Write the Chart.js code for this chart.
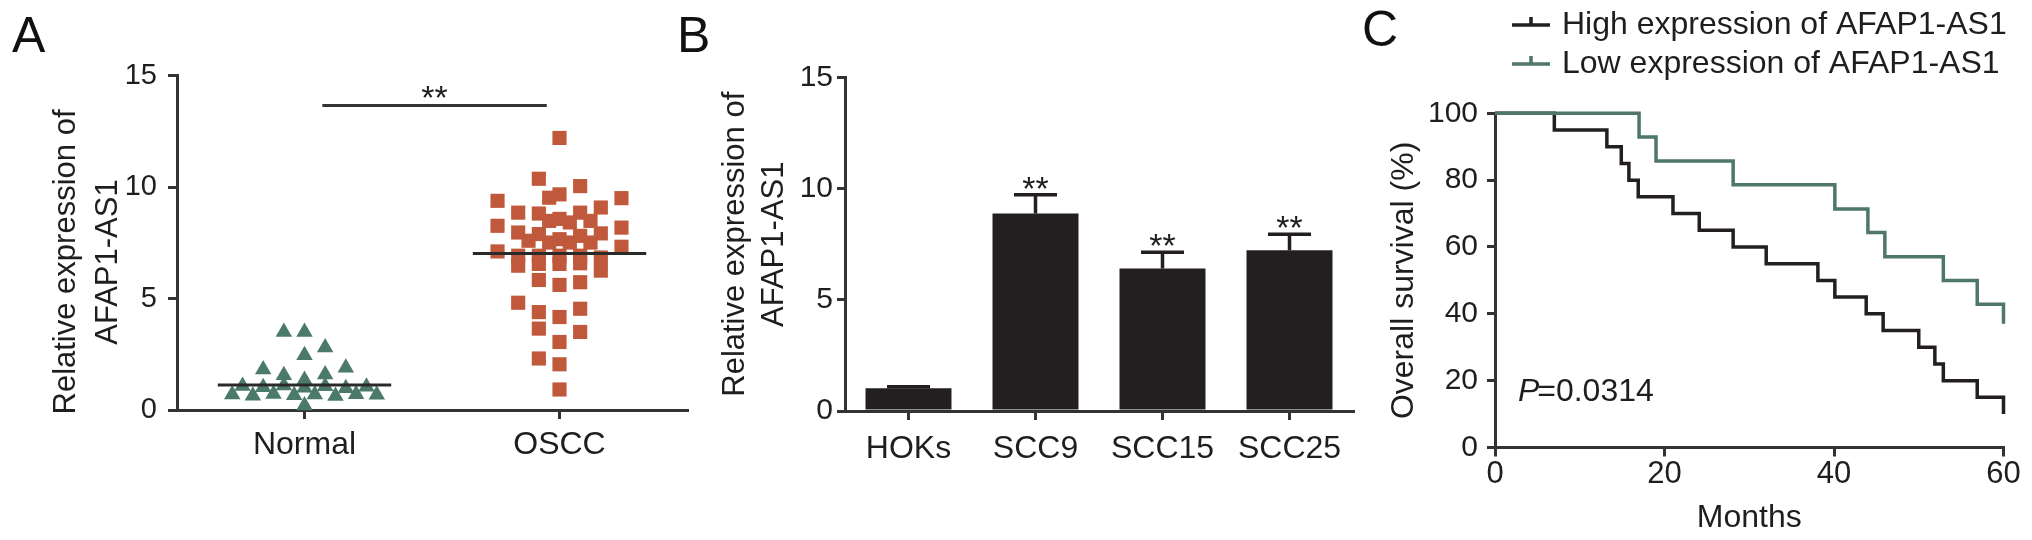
<!DOCTYPE html>
<html><head><meta charset="utf-8">
<script src="https://cdn.jsdelivr.net/npm/chart.js@4.4.1/dist/chart.umd.min.js"></script>
<style>
html,body{margin:0;padding:0;background:#fff;}
body{width:2032px;height:540px;position:relative;overflow:hidden;font-family:"Liberation Sans",Arial,Helvetica,sans-serif;}
canvas{position:absolute;top:0;}
.panel{position:absolute;font-size:50px;line-height:50px;color:#111;}
</style></head><body>
<div class="panel" style="left:12px;top:10px">A</div>
<div class="panel" style="left:677px;top:10px">B</div>
<div class="panel" style="left:1362px;top:4px">C</div>
<canvas id="cA" width="712" height="540" style="left:0px"></canvas>
<canvas id="cB" width="653" height="540" style="left:712px"></canvas>
<canvas id="cC" width="662" height="540" style="left:1370px"></canvas>
<script>
// ---------------- data ----------------
// Panel A
const groupLabelsA = ['Normal', 'OSCC'];
const yTicksA = [0, 5, 10, 15];
const normalValues = [3.50, 3.50, 2.80, 2.46, 1.82, 1.89, 1.56, 1.59, 1.34,
  1.08, 1.02, 1.10, 1.00, 1.06, 0.98, 1.04,
  0.70, 0.64, 0.72, 0.66, 0.69, 0.63, 0.71, 0.68, 0.20];
const normalSlots = [-1, 0, 1, 0, -2, 2, -1, 1, 0,
  -3, -2, -1, 0, 1, 2, 3,
  -3.5, -2.5, -1.5, -0.5, 0.5, 1.5, 2.5, 3.5, 0];
const osccValues = [12.2, 10.37, 10.04, 9.67, 9.52, 9.38, 9.50, 8.85, 8.81, 8.85, 9.08,
  8.48, 8.57, 8.41, 8.48, 8.26, 8.18, 7.96, 7.89, 7.92, 7.81, 7.66, 7.59, 7.51, 7.51, 7.51,
  7.32, 7.11, 6.92, 6.92, 6.92, 6.92, 6.84, 6.47, 6.55, 6.55, 6.58, 6.25, 5.83, 5.61, 5.73,
  4.81, 4.39, 4.54, 4.17, 3.65, 3.50, 3.05, 2.31, 2.05, 0.92];
const osccSlots = [0, -1, 1, 0, -0.5, -3, 3, -2, -1, 1, 2,
  -0.5, 0, 0.5, 1.5, -3, 3, -2, -1, 2, 1, 0, -1.5, -0.5, 0.5, 1.5,
  3, -3, -2, -1, 0, 1, 2, -2, -1, 0, 1, 2, -1, 0, 1,
  -2, -1, 1, 0, -1, 1, 0, -1, 0, 0];
const groupMeansA = [1.12, 7.02];
const sigSpanA = [0.07, 0.95];
const sigLevelA = 13.65;
const sigTextA = '**';

// Panel B
const cellLines = ['HOKs', 'SCC9', 'SCC15', 'SCC25'];
const expressionMeans = [1.02, 8.88, 6.41, 7.23];
const expressionSD = [0.07, 0.85, 0.73, 0.72];
const significanceB = ['', '**', '**', '**'];
const yTicksB = [0, 5, 10, 15];

// Panel C
const seriesNamesC = ['High expression of AFAP1-AS1', 'Low expression of AFAP1-AS1'];
const highMonths = [0, 7, 13.2, 14.9, 15.8, 16.9, 21, 24.1, 28.1, 32, 38.1, 40.1, 43.8, 45.8, 50, 51.9, 52.9, 56.9, 60];
const highSurvival = [100, 95, 90, 85, 80, 75, 70, 65, 60, 55, 50, 45, 40, 35, 30, 25, 20, 15, 10];
const lowMonths = [0, 17, 19, 28.1, 40.1, 44, 46, 52.9, 56.9, 60];
const lowSurvival = [100, 92.9, 85.7, 78.6, 71.4, 64.3, 57.1, 50, 42.9, 37];
const xTicksC = [0, 20, 40, 60];
const yTicksC = [0, 20, 40, 60, 80, 100];
const pValueText = '0.0314';

// ---------------- style ----------------
const FONT = '"Liberation Sans", Arial, Helvetica, sans-serif';
const INK = '#1e1e1e';
const AXIS = '#333333';
const GREEN = '#4b7a68';
const RUST = '#c0583b';
const BAR = '#231f20';

function axisStyle(tickLen) {
  return {
    grid: { display: true, drawOnChartArea: false, drawTicks: true, tickLength: tickLen,
            color: AXIS, lineWidth: 3, tickWidth: 3, tickColor: AXIS },
    border: { display: true, color: AXIS, width: 3 }
  };
}
function fixedTicks(arr) { return (scale) => { scale.ticks = arr.map(v => ({ value: v })); }; }
const base = { responsive: false, animation: false, devicePixelRatio: 1, events: [] };
const noPlug = { legend: { display: false }, tooltip: { enabled: false } };

function drawStars(ctx, text, x, centerY, size) {
  ctx.save();
  ctx.fillStyle = INK;
  ctx.font = size + 'px ' + FONT;
  ctx.textAlign = 'center';
  ctx.textBaseline = 'alphabetic';
  ctx.fillText(text, x, centerY + 0.58 * size);
  ctx.restore();
}

// ---------------- Panel A ----------------
const swarmStep = 0.081;
const meanHalf = 0.34;
const normalPoints = normalValues.map((v, i) => ({ x: 0 + normalSlots[i] * swarmStep, y: v }));
const osccPoints = osccValues.map((v, i) => ({ x: 1 + osccSlots[i] * swarmStep, y: v }));

const titleA = {
  id: 'titleA',
  afterDraw(chart) {
    const ctx = chart.ctx;
    const lines = ['Relative expression of', 'AFAP1-AS1'];
    const xs = [66, 108];
    ctx.save();
    ctx.fillStyle = INK;
    ctx.font = '31px ' + FONT;
    ctx.textAlign = 'center';
    ctx.textBaseline = 'middle';
    lines.forEach((t, i) => {
      ctx.save(); ctx.translate(xs[i], 262); ctx.rotate(-Math.PI / 2); ctx.fillText(t, 0, 0); ctx.restore();
    });
    ctx.restore();
    const xs2 = chart.scales.x, ys2 = chart.scales.y;
    drawStars(ctx, sigTextA, xs2.getPixelForValue((sigSpanA[0] + sigSpanA[1]) / 2),
              ys2.getPixelForValue(sigLevelA) - 16, 34);
  }
};

new Chart(document.getElementById('cA'), {
  type: 'scatter',
  data: { datasets: [
    { type: 'line', data: [{ x: -meanHalf, y: groupMeansA[0] }, { x: meanHalf, y: groupMeansA[0] }],
      borderColor: '#2a2a2a', borderWidth: 3, pointRadius: 0, order: 0, clip: false },
    { type: 'line', data: [{ x: 1 - meanHalf, y: groupMeansA[1] }, { x: 1 + meanHalf, y: groupMeansA[1] }],
      borderColor: '#2a2a2a', borderWidth: 3, pointRadius: 0, order: 0, clip: false },
    { type: 'line', data: [{ x: sigSpanA[0], y: sigLevelA }, { x: sigSpanA[1], y: sigLevelA }],
      borderColor: AXIS, borderWidth: 3, pointRadius: 0, order: 0, clip: false },
    { label: groupLabelsA[0], data: normalPoints, pointStyle: 'triangle', pointRadius: 9.5,
      pointBackgroundColor: GREEN, pointBorderColor: GREEN, pointBorderWidth: 0, order: 2, clip: false },
    { label: groupLabelsA[1], data: osccPoints, pointStyle: 'rect', pointRadius: 10,
      pointBackgroundColor: RUST, pointBorderColor: RUST, pointBorderWidth: 0, order: 1, clip: false }
  ]},
  options: Object.assign({}, base, {
    layout: { padding: { left: 0, right: 25, top: 75.5, bottom: 0 } },
    plugins: noPlug,
    scales: {
      x: Object.assign({ type: 'linear', min: -0.5, max: 1.5,
        afterBuildTicks: fixedTicks([0, 1]),
        afterFit: s => { s.height = 130; },
        ticks: { callback: v => groupLabelsA[v], font: { family: FONT, size: 32, lineHeight: 1.2 },
                 color: INK, padding: 7, maxRotation: 0, autoSkip: false } }, axisStyle(9)),
      y: Object.assign({ min: 0, max: 15,
        afterBuildTicks: fixedTicks(yTicksA),
        afterFit: s => { s.width = 177; },
        ticks: { font: { family: FONT, size: 29 }, color: INK, padding: 11 } }, axisStyle(9))
    }
  }),
  plugins: [titleA]
});

// ---------------- Panel B ----------------
const errorBarsB = {
  id: 'errorBarsB',
  afterDatasetsDraw(chart) {
    const ctx = chart.ctx, xs = chart.scales.x, ys = chart.scales.y;
    ctx.save();
    ctx.strokeStyle = BAR;
    ctx.lineWidth = 3.5;
    expressionMeans.forEach((m, i) => {
      const x = xs.getPixelForValue(i);
      const yb = ys.getPixelForValue(m);
      const yt = ys.getPixelForValue(m + expressionSD[i]);
      ctx.beginPath();
      ctx.moveTo(x, yb); ctx.lineTo(x, yt);
      ctx.moveTo(x - 21.5, yt); ctx.lineTo(x + 21.5, yt);
      ctx.stroke();
      if (significanceB[i]) drawStars(ctx, significanceB[i], x, yt - 14.5, 34);
    });
    ctx.restore();
  }
};

new Chart(document.getElementById('cB'), {
  type: 'bar',
  data: { labels: cellLines, datasets: [{ data: expressionMeans, backgroundColor: BAR, borderWidth: 0,
          barPercentage: 0.677, categoryPercentage: 1 }] },
  options: Object.assign({}, base, {
    layout: { padding: { left: 0, right: 12, top: 77.5, bottom: 0 } },
    plugins: noPlug,
    scales: {
      x: Object.assign({ offset: true,
        afterFit: s => { s.height = 129; },
        ticks: { font: { family: FONT, size: 32, lineHeight: 1.2 }, color: INK, padding: 10, maxRotation: 0, autoSkip: false } },
        axisStyle(9), { grid: Object.assign(axisStyle(9).grid, { offset: false }) }),
      y: Object.assign({ min: 0, max: 15,
        afterBuildTicks: fixedTicks(yTicksB),
        afterFit: s => { s.width = 133; },
        ticks: { font: { family: FONT, size: 30 }, color: INK, padding: 4 },
        title: { display: true, text: ['Relative expression of', 'AFAP1-AS1'], color: INK,
                 font: { family: FONT, size: 31, lineHeight: 1.258 }, padding: { top: 3.5, bottom: 0 } } },
        axisStyle(8))
    }
  }),
  plugins: [errorBarsB]
});

// ---------------- Panel C ----------------
const kmLegend = {
  id: 'kmLegend',
  afterDraw(chart) {
    const ctx = chart.ctx;
    const rows = [25, 64];
    ctx.save();
    [0, 1].forEach((d, i) => {
      const ds = chart.data.datasets[d];
      const y = rows[i];
      ctx.strokeStyle = ds.borderColor;
      ctx.lineWidth = 3.5;
      ctx.beginPath();
      ctx.moveTo(142, y); ctx.lineTo(180, y);
      ctx.moveTo(161, y); ctx.lineTo(161, y - 8);
      ctx.stroke();
      ctx.fillStyle = INK;
      ctx.font = '32px ' + FONT;
      ctx.textAlign = 'left';
      ctx.textBaseline = 'middle';
      ctx.fillText(ds.label, 192, y);
    });
    // P value
    const xs = chart.scales.x, ys = chart.scales.y;
    const px = xs.getPixelForValue(2.7), py = ys.getPixelForValue(13.9);
    ctx.textBaseline = 'alphabetic';
    ctx.font = 'italic 32px ' + FONT;
    ctx.fillText('P', px, py);
    const w = ctx.measureText('P').width;
    ctx.font = '32px ' + FONT;
    ctx.fillText('=' + pValueText, px + w - 2, py);
    ctx.restore();
  }
};

new Chart(document.getElementById('cC'), {
  type: 'line',
  data: { datasets: [
    { label: seriesNamesC[0], data: highMonths.map((m, i) => ({ x: m, y: highSurvival[i] })),
      borderColor: BAR, borderWidth: 3.5, stepped: 'before', pointRadius: 0, clip: false, order: 1, fill: false },
    { label: seriesNamesC[1], data: lowMonths.map((m, i) => ({ x: m, y: lowSurvival[i] })),
      borderColor: '#4e7767', borderWidth: 3.5, stepped: 'before', pointRadius: 0, clip: false, order: 0, fill: false }
  ]},
  options: Object.assign({}, base, {
    layout: { padding: { left: 0, right: 28.5, top: 113.3, bottom: 0 } },
    plugins: noPlug,
    scales: {
      x: Object.assign({ type: 'linear', min: 0, max: 60,
        afterBuildTicks: fixedTicks(xTicksC),
        afterFit: s => { s.height = 92.5; },
        ticks: { font: { family: FONT, size: 31, lineHeight: 1.2 }, color: INK, padding: -1, maxRotation: 0, autoSkip: false },
        title: { display: true, text: 'Months', color: INK, font: { family: FONT, size: 32, lineHeight: 1.2 },
                 padding: { top: 0, bottom: 2.3 } } }, axisStyle(9)),
      y: Object.assign({ min: 0, max: 100,
        afterBuildTicks: fixedTicks(yTicksC),
        afterFit: s => { s.width = 125; },
        ticks: { font: { family: FONT, size: 30 }, color: INK, padding: 9 },
        title: { display: true, text: 'Overall survival (%)', color: INK, font: { family: FONT, size: 32, lineHeight: 1.2 },
                 padding: { top: 14.8, bottom: 0 } } }, axisStyle(8))
    }
  }),
  plugins: [kmLegend]
});
</script>
</body></html>
